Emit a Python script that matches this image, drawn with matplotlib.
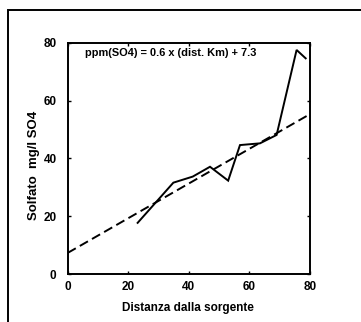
import numpy as np
import matplotlib.pyplot as plt
from matplotlib.patches import Rectangle

# ── data ──────────────────────────────────────────
dist_km = [23.1, 34.9, 41.3, 47.0, 53.0, 56.9, 63.5, 69.0, 75.6, 78.6]
solfato = [17.7, 31.6, 33.7, 37.1, 32.3, 44.6, 45.2, 48.1, 77.5, 74.6]

slope, intercept = 0.6, 7.3
fit_x = [0, 80]

x_ticks = [0, 20, 40, 60, 80]
y_ticks = [0, 20, 40, 60, 80]

plt.rcParams["font.family"] = ["Liberation Sans", "DejaVu Sans"]
plt.rcParams["font.weight"] = "bold"

fig = plt.figure(figsize=(3.61, 3.22), dpi=100)
fig.patch.set_facecolor("white")

# outer frame running off the right and bottom edges
fig.patches.append(Rectangle((8 / 361, -0.2), 1.2, 1.2 - 9.5 / 322,
                             transform=fig.transFigure, fill=False,
                             edgecolor="black", linewidth=1.4))

ax = fig.add_axes([0.1875, 0.149, 0.671, 0.7183])

ax.plot(dist_km, solfato, color="black", linewidth=1.4, solid_joinstyle="miter")
fit_y = [slope * x + intercept for x in fit_x]
ax.plot(fit_x, fit_y, color="black", linewidth=1.4, linestyle=(0, (4.8, 2.4)))

ax.set_xlim(0, 80)
ax.set_ylim(0, 80)
ax.set_xticks(x_ticks)
ax.set_yticks(y_ticks)
ax.tick_params(direction="in", length=2, width=1, top=True, right=True,
               labelsize=8.5, pad=5)
ax.tick_params(axis="y", pad=8)
for sp in ax.spines.values():
    sp.set_linewidth(1.4)

ax.text(0.073, 0.955, "ppm(SO4) = 0.6 x (dist. Km) + 7.3", transform=ax.transAxes,
        ha="left", va="center", fontsize=7.9, fontweight="bold")

fig.text(188 / 361, 1 - 308 / 322, "Distanza dalla sorgente",
         ha="center", va="center", fontsize=8.5, fontweight="bold")
fig.text(34 / 361, 1 - 165 / 322, "Solfato  mg/l SO4", rotation=90,
         ha="center", va="center", fontsize=9.5, fontweight="bold")

fig.savefig("out.png", dpi=100)
